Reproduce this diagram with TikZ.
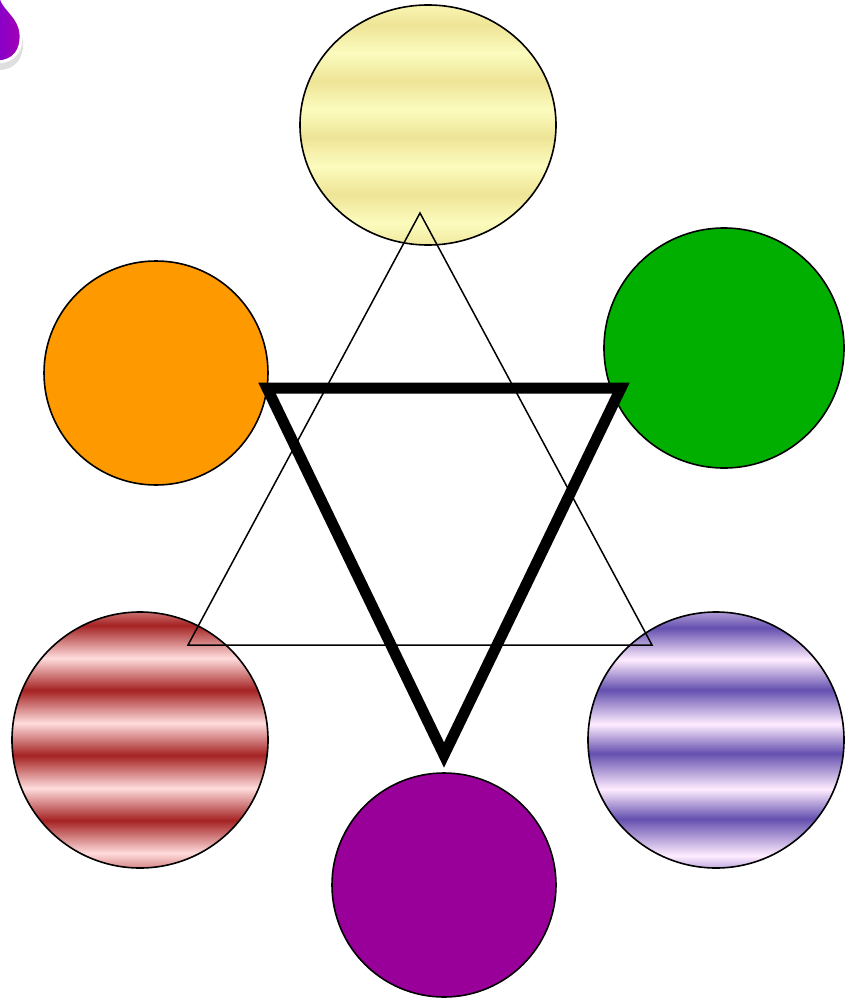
\documentclass[tikz,border=0pt]{standalone}
\usetikzlibrary{shapes.geometric}
\definecolor{ydk}{RGB}{238,228,150}
\definecolor{ylt}{RGB}{252,252,190}
\definecolor{rdk}{RGB}{165,34,34}
\definecolor{rlt}{RGB}{255,220,220}
\definecolor{vdk}{RGB}{100,80,175}
\definecolor{vlt}{RGB}{255,236,255}
\definecolor{grn}{RGB}{0,175,0}
\definecolor{org}{RGB}{255,153,0}
\definecolor{pur}{RGB}{153,0,153}
\definecolor{blobl}{RGB}{135,0,200}
\definecolor{blobr}{RGB}{165,0,180}
\pgfdeclareverticalshading{ystripes}{100bp}{color(0bp)=(ydk); color(23.8bp)=(ydk); color(29.6bp)=(ylt); color(35.6bp)=(ydk); color(41.4bp)=(ylt); color(47.4bp)=(ydk); color(53.2bp)=(ylt); color(59.2bp)=(ydk); color(65bp)=(ylt); color(70.8bp)=(ydk); color(76.6bp)=(ylt); color(100bp)=(ylt)}
\pgfdeclareverticalshading{rstripes}{100bp}{color(0bp)=(rdk); color(21.5bp)=(rdk); color(27.9bp)=(rlt); color(34.3bp)=(rdk); color(40.6bp)=(rlt); color(47bp)=(rdk); color(53.3bp)=(rlt); color(59.7bp)=(rdk); color(66bp)=(rlt); color(72.4bp)=(rdk); color(78.7bp)=(rlt); color(100bp)=(rlt)}
\pgfdeclareverticalshading{vstripes}{100bp}{color(0bp)=(vdk); color(21.5bp)=(vdk); color(27.4bp)=(vlt); color(34.6bp)=(vdk); color(40.4bp)=(vlt); color(47.4bp)=(vdk); color(53.1bp)=(vlt); color(59.8bp)=(vdk); color(65.7bp)=(vlt); color(71.9bp)=(vdk); color(78.2bp)=(vlt); color(100bp)=(vlt)}
\pgfdeclarehorizontalshading{blobshade}{100bp}{color(0bp)=(blobl); color(25bp)=(blobl); color(75bp)=(blobr); color(100bp)=(blobr)}
\tikzset{
  disc/.style={circle, draw=black, line width=1.6pt, inner sep=0pt},
  oval/.style={ellipse, draw=black, line width=1.6pt, inner sep=0pt},
  thintri/.style={draw=black, line width=1.5pt, line join=miter},
  thicktri/.style={draw=black, line width=11pt, line join=miter, miter limit=10},
}
\begin{document}
\begin{tikzpicture}[x=1pt,y=-1pt]
\useasboundingbox (0,0) rectangle (844,998);
% top-left blob
\fill[black!25, opacity=0.5] (2,6) .. controls (6,18) and (22,24) .. (23,41) .. controls (24,58) and (16,69) .. (0,70) -- cycle;
\draw[white, line width=3pt, shading=blobshade] (1,-2) .. controls (5,10) and (20,17) .. (21,34) .. controls (22,51) and (14,61) .. (-2,62) -- (-2,-2) -- cycle;
% circles
\node[oval, shading=ystripes, minimum width=256pt, minimum height=240pt] (yel) at (428,125) {};
\node[disc, fill=grn, minimum size=240pt] (gre) at (724,348) {};
\node[disc, fill=org, minimum size=224pt] (ora) at (156,373) {};
\node[disc, shading=rstripes, minimum size=256pt] (red) at (140,740) {};
\node[disc, shading=vstripes, minimum size=256pt] (vio) at (716,740) {};
\node[disc, fill=pur, minimum size=224pt] (pur) at (444,885) {};
% triangles
\coordinate (ta) at (420,213);
\coordinate (tb) at (188,645);
\coordinate (tc) at (652,645);
\draw[thintri] (ta) -- (tb) -- (tc) -- cycle;
\coordinate (ka) at (267,388);
\coordinate (kb) at (621,388);
\coordinate (kc) at (444,755);
\draw[thicktri] (ka) -- (kb) -- (kc) -- cycle;
\end{tikzpicture}
\end{document}
